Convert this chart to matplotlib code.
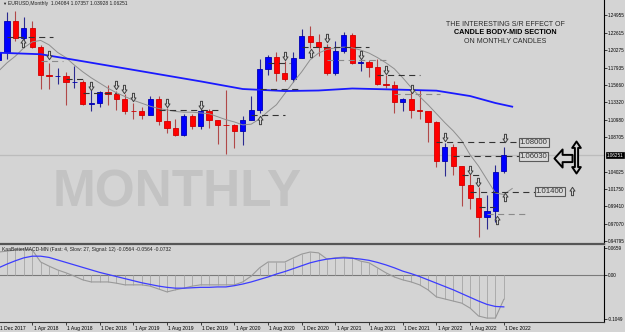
import numpy as np
import matplotlib
matplotlib.use("Agg")
import matplotlib.pyplot as plt
import matplotlib.transforms as mtransforms
from matplotlib.path import Path

plt.rcParams['font.family'] = ['Liberation Sans', 'DejaVu Sans']

# EURUSD monthly candles, Dec 2017 .. Dec 2022 (month index 0 = Jan 2018)
month_idx = np.arange(-1, 60)
opens = [1.1902,
         1.2005, 1.2414, 1.2194, 1.2324, 1.2078, 1.1693, 1.1684, 1.1690, 1.1603, 1.1604, 1.1313, 1.1318,
         1.1466, 1.1447, 1.1371, 1.1217, 1.1215, 1.1168, 1.1370, 1.1078, 1.0990, 1.0899, 1.1151, 1.1016,
         1.1213, 1.1092, 1.1031, 1.1029, 1.0954, 1.1101, 1.1234, 1.1778, 1.1936, 1.1721, 1.1647, 1.1927,
         1.2216, 1.2137, 1.2075, 1.1728, 1.2019, 1.2227, 1.1858, 1.1870, 1.1809, 1.1579, 1.1558, 1.1338,
         1.1372, 1.1235, 1.1218, 1.1067, 1.0545, 1.0733, 1.0484, 1.0224, 1.0054, 0.9802, 0.9883, 1.04084]
highs = [1.2023,
         1.2537, 1.2556, 1.2476, 1.2414, 1.2097, 1.1852, 1.1791, 1.1734, 1.1815, 1.1625, 1.1500, 1.1486,
         1.1570, 1.1489, 1.1448, 1.1324, 1.1265, 1.1412, 1.1412, 1.1250, 1.1110, 1.1179, 1.1176, 1.1240,
         1.1239, 1.1097, 1.1496, 1.1040, 1.1147, 1.1422, 1.1909, 1.1966, 1.2011, 1.1881, 1.2004, 1.2310,
         1.2350, 1.2243, 1.2113, 1.2150, 1.2266, 1.2254, 1.1909, 1.1901, 1.1909, 1.1692, 1.1616, 1.1386,
         1.1483, 1.1495, 1.1185, 1.1076, 1.0787, 1.0774, 1.0486, 1.0369, 1.0198, 1.0094, 1.0497, 1.07357]
lows = [1.1717,
        1.1915, 1.2153, 1.2155, 1.2055, 1.1510, 1.1508, 1.1575, 1.1301, 1.1526, 1.1302, 1.1216, 1.1269,
        1.1290, 1.1234, 1.1176, 1.1111, 1.1106, 1.1181, 1.1028, 1.0926, 1.0879, 1.0880, 1.0981, 1.0981,
        1.0992, 1.0778, 1.0636, 1.0727, 1.0767, 1.1098, 1.1186, 1.1696, 1.1612, 1.1622, 1.1603, 1.1925,
        1.2059, 1.1952, 1.1704, 1.1704, 1.1986, 1.1847, 1.1752, 1.1664, 1.1563, 1.1524, 1.1186, 1.1222,
        1.1121, 1.1106, 1.0806, 1.0471, 1.0349, 1.0359, 0.9952, 0.9901, 0.9536, 0.9632, 0.9730, 1.03928]
closes = [1.2005,
          1.2414, 1.2194, 1.2324, 1.2078, 1.1693, 1.1684, 1.1690, 1.1603, 1.1604, 1.1313, 1.1318, 1.1466,
          1.1447, 1.1371, 1.1217, 1.1215, 1.1168, 1.1370, 1.1078, 1.0990, 1.0899, 1.1151, 1.1016, 1.1213,
          1.1092, 1.1031, 1.1029, 1.0954, 1.1101, 1.1234, 1.1778, 1.1936, 1.1721, 1.1647, 1.1927, 1.2216,
          1.2137, 1.2075, 1.1728, 1.2019, 1.2227, 1.1858, 1.1870, 1.1809, 1.1579, 1.1558, 1.1338, 1.1372,
          1.1235, 1.1218, 1.1067, 1.0545, 1.0733, 1.0484, 1.0224, 1.0054, 0.9802, 0.9883, 1.0406, 1.06251]
last_price = 1.06251

# moving averages
ma_slow_idx = [-1, 4, 8, 15, 23, 28, 33, 37, 41, 46, 51, 55, 58, 60]
ma_slow = [1.1995, 1.1975, 1.1900, 1.1766, 1.1612, 1.1510, 1.1483, 1.1490, 1.1517, 1.1503, 1.1488,
           1.1416, 1.1323, 1.1274]
ma_fast_idx = np.arange(-1, 61)
ma_fast = [1.175, 1.186, 1.195, 1.206, 1.214, 1.216, 1.210, 1.200, 1.193, 1.183, 1.174, 1.166, 1.159,
           1.152, 1.146, 1.141, 1.136, 1.132, 1.128, 1.125, 1.123, 1.121, 1.120, 1.120, 1.119, 1.118,
           1.114, 1.110, 1.107, 1.103, 1.104, 1.111, 1.121, 1.130, 1.145, 1.160, 1.174, 1.190, 1.199,
           1.204, 1.206, 1.207, 1.206, 1.203, 1.199, 1.193, 1.186, 1.178, 1.166, 1.153, 1.141, 1.130,
           1.118, 1.106, 1.095, 1.082, 1.063, 1.048, 1.030, 1.012, 1.010, 1.018]

# body-mid levels: candle index, month where the dashed line stops, dark/grey
mid_from = [0, 4, 7, 9, 18, 29, 30, 31, 35, 38, 44, 46, 51, 53, 54, 55, 56, 57]
mid_to = [5.5, 6.7, 9.5, 13, 25, 33, 35, 33.6, 43, 45, 49, 51.4, 60.9, 60.9, 56.5, 62.7, 58, 62]
mid_dark = [1, 0, 1, 1, 1, 1, 1, 1, 1, 0, 1, 0, 1, 1, 1, 1, 1, 0]

# labelled levels
box_idx = [60.9, 60.9, 62.8]
box_level = [1.0800, 1.0603, 1.0140]
box_text = ['1.08000', '1.06030', '1.01400']

# small hollow arrows
down_idx = [5, 10, 12.9, 13.9, 15, 19, 23, 33, 38, 42, 45, 48.1, 52, 59.1, 55, 55.9]
down_px = [1.1965, 1.155, 1.156, 1.151, 1.140, 1.132, 1.129, 1.195, 1.219, 1.196, 1.176, 1.151,
           1.087, 1.085, 1.043, 1.027]
up_idx = [1.9, 30, 36.1, 59.1, 58.2, 67.1]
up_px = [1.2125, 1.110, 1.199, 1.007, 0.976, 1.014]

# MACD panel
macd_main = [0.056, 0.058, 0.061, 0.063, 0.061, 0.032, 0.022, 0.013, 0.006, -0.002, -0.011, -0.016,
             -0.016, -0.016, -0.019, -0.023, -0.023, -0.023, -0.026, -0.033, -0.040, -0.035, -0.031,
             -0.026, -0.023, -0.023, -0.023, -0.023, -0.023, -0.016, -0.002, 0.018, 0.032, 0.032,
             0.032, 0.042, 0.051, 0.056, 0.054, 0.039, 0.042, 0.044, 0.042, 0.034, 0.030, 0.018,
             0.006, -0.004, -0.011, -0.016, -0.023, -0.035, -0.052, -0.057, -0.062, -0.067, -0.079,
             -0.098, -0.103, -0.103, -0.058]
macd_signal = [0.018, 0.027, 0.035, 0.042, 0.046, 0.046, 0.043, 0.037, 0.031, 0.025, 0.019, 0.013,
               0.007, 0.002, -0.003, -0.008, -0.013, -0.018, -0.022, -0.026, -0.029, -0.031, -0.031,
               -0.030, -0.029, -0.029, -0.028, -0.028, -0.025, -0.021, -0.016, -0.010, -0.004, 0.003,
               0.009, 0.016, 0.023, 0.030, 0.035, 0.039, 0.041, 0.042, 0.041, 0.039, 0.036, 0.031,
               0.025, 0.018, 0.010, 0.004, -0.003, -0.011, -0.019, -0.027, -0.035, -0.044, -0.053,
               -0.062, -0.070, -0.075, -0.076]

price_ticks = [1.24955, 1.22615, 1.20275, 1.17935, 1.15660, 1.13320, 1.10980, 1.08705,
               1.04025, 1.01750, 0.99410, 0.97070, 0.94795]
date_labels = ['1 Dec 2017', '1 Apr 2018', '1 Aug 2018', '1 Dec 2018', '1 Apr 2019', '1 Aug 2019',
               '1 Dec 2019', '1 Apr 2020', '1 Aug 2020', '1 Dec 2020', '1 Apr 2021', '1 Aug 2021',
               '1 Dec 2021', '1 Apr 2022', '1 Aug 2022', '1 Dec 2022']
date_idx = np.arange(-1, 60, 4)

BG = '#d4d4d4'
FS = 3.6
FS_AX = 3.3   # right scale, kept inside the picture

fig = plt.figure(figsize=(6.25, 3.32), dpi=100, facecolor=BG)
ax = fig.add_axes([0, 88 / 332, 604 / 625, 244 / 332], facecolor=BG)
ax2 = fig.add_axes([0, 10 / 332, 604 / 625, 76 / 332], facecolor=BG)

for a in (ax, ax2):
    a.set_xlim(-0.83, 70.9)
    a.spines['top'].set_visible(False)
    a.spines['left'].set_visible(False)
    a.spines['right'].set_color('black')
    a.spines['right'].set_linewidth(0.8)
ax.set_ylim(0.9438, 1.2700)
ax2.set_ylim(-0.1124, 0.0705)
ax.spines['bottom'].set_color('#555555')
ax.spines['bottom'].set_linewidth(1.6)
ax2.spines['bottom'].set_color('#333333')
ax2.spines['bottom'].set_linewidth(0.8)

# current price line
ax.axhline(last_price, color='#bcbcbc', lw=0.9, zorder=1)

# candles
o = np.array(opens); c = np.array(closes)
up = c >= o
body_col = np.where(up, '#0000ff', '#ff0000')
edge_col = np.where(up, '#0000b0', '#d00000')
wick_col = np.where(up, '#2a2a90', '#b04848')
ax.vlines(month_idx, lows, highs, colors=wick_col, lw=0.8, zorder=2)
ax.bar(month_idx, np.abs(c - o), bottom=np.minimum(o, c), width=0.62,
       color=body_col, edgecolor=edge_col, lw=0.6, zorder=3)

# moving averages
ax.plot(ma_fast_idx, ma_fast, color='#8e8e8e', lw=0.7, zorder=4)
ax.plot(ma_slow_idx, ma_slow, color='#1a1aff', lw=1.3, zorder=4)

# body-mid dashed levels
for i0, i1, dark in zip(mid_from, mid_to, mid_dark):
    k = i0 + 1
    lvl = (opens[k] + closes[k]) / 2
    ax.plot([i0, i1], [lvl, lvl], color='#333333' if dark else '#8a8a8a',
            lw=0.8, ls=(0, (5.5, 4)), zorder=4)

for xi, lvl, t in zip(box_idx, box_level, box_text):
    ax.text(xi, lvl, t, fontsize=5.6, color='#333333', ha='left', va='center', zorder=6,
            bbox=dict(boxstyle='square,pad=0.12', fc='#d9d9d9', ec='#5a5a5a', lw=0.8))

# hollow arrows
down_arrow = Path([(0, -1), (0.6, -0.1), (0.25, -0.1), (0.25, 1), (-0.25, 1), (-0.25, -0.1),
                   (-0.6, -0.1), (0, -1)], closed=True)
up_arrow = Path([(0, 1), (0.6, 0.1), (0.25, 0.1), (0.25, -1), (-0.25, -1), (-0.25, 0.1),
                 (-0.6, 0.1), (0, 1)], closed=True)
ax.plot(down_idx, down_px, ls='none', marker=down_arrow, ms=6, mfc=BG, mec='#404040', mew=0.7, zorder=5)
ax.plot(up_idx, up_px, ls='none', marker=up_arrow, ms=6, mfc=BG, mec='#404040', mew=0.7, zorder=5)

left_arrow = Path([(-1, 0), (-0.1, 1), (-0.1, 0.4), (1, 0.4), (1, -0.4), (-0.1, -0.4),
                   (-0.1, -1), (-1, 0)], closed=True)
updown_arrow = Path([(0, 1), (0.27, 0.6), (0.1, 0.6), (0.1, -0.6), (0.27, -0.6), (0, -1),
                     (-0.27, -0.6), (-0.1, -0.6), (-0.1, 0.6), (-0.27, 0.6), (0, 1)], closed=True)
ax.plot([66.0], [1.0594], ls='none', marker=left_arrow, ms=13, mfc=BG, mec='black', mew=1.4, zorder=6)
ax.plot([67.6], [1.0601], ls='none', marker=updown_arrow, ms=23, mfc=BG, mec='black', mew=1.4, zorder=6)

# right price scale
ax.yaxis.tick_right()
ax.set_yticks(price_ticks)
ax.set_yticklabels([f'{p:.5f}' for p in price_ticks])
ax.tick_params(axis='y', length=2, width=0.5, pad=1.0, labelsize=FS_AX)
ax.tick_params(axis='x', bottom=False, labelbottom=False)
ax.text(1.004, last_price, '1.06251', transform=mtransforms.blended_transform_factory(ax.transAxes, ax.transData),
        fontsize=FS_AX, color='white', ha='left', va='center', zorder=7, clip_on=False,
        bbox=dict(boxstyle='square,pad=0.15', fc='black', ec='black', lw=0.5))

# MACD
ax2.axhline(0, color='#7a7a7a', lw=0.8, zorder=1)
ax2.vlines(month_idx, 0, macd_main, colors='#ababab', lw=0.7, zorder=2)
ax2.plot(month_idx, macd_main, color='#999999', lw=0.8, zorder=3)
ax2.plot(month_idx, macd_signal, color='#3c3cff', lw=0.9, zorder=4)
ax2.yaxis.tick_right()
ax2.set_yticks([0.0659, 0.0, -0.1049])
ax2.set_yticklabels(['0.0659', '0.00', '-0.1049'])
ax2.tick_params(axis='y', length=2, width=0.5, pad=1.0, labelsize=FS_AX)
ax2.set_xticks(date_idx[1:])
ax2.tick_params(axis='x', length=2, width=0.5, labelbottom=False)
btrans = mtransforms.blended_transform_factory(ax2.transData, ax2.transAxes)
for xi, t in zip(date_idx, date_labels):
    ax2.text(xi + 0.15, -0.08, t, transform=btrans, fontsize=FS, ha='left', va='center', clip_on=False)
ax2.text(0.003, 0.95, 'KaaBetterMACD-MN (Fast: 4, Slow: 27, Signal: 12) -0.0564 -0.0564 -0.0732',
         transform=ax2.transAxes, fontsize=FS, color='#222222', ha='left', va='center', zorder=6)

# header / titles / watermark
fig.text(2 / 625, 1 - 4 / 332, '\u25bc', fontsize=3, color='#222222', va='center')
fig.text(8 / 625, 1 - 4 / 332, 'EURUSD,Monthly  1.04084 1.07357 1.03928 1.06251',
         fontsize=FS, color='#222222', va='center')
fig.text(505 / 625, 1 - 24 / 332, 'THE INTERESTING S/R EFFECT OF', fontsize=5,
         color='#2a2a2a', ha='center', va='center')
fig.text(505 / 625, 1 - 33 / 332, 'CANDLE BODY-MID SECTION', fontsize=5.2, weight='bold',
         color='black', ha='center', va='center')
fig.text(505 / 625, 1 - 41.5 / 332, 'ON MONTHLY CANDLES', fontsize=5,
         color='#2a2a2a', ha='center', va='center')
ax.text(53 / 625, 1 - 193 / 332, 'MONTHLY', transform=fig.transFigure, fontsize=37,
        weight='bold', color='#c3c3c3', ha='left', va='center', zorder=0.5)

fig.savefig('out.png', dpi=100, facecolor=BG)
